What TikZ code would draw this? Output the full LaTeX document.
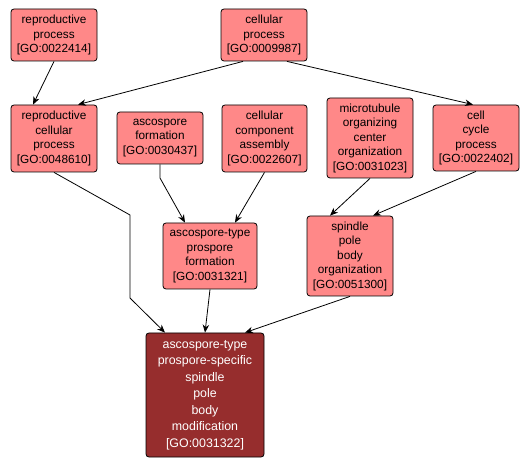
\documentclass[tikz,border=0pt]{standalone}
\usepackage{fontspec}
\setmainfont{Liberation Sans}
\usetikzlibrary{arrows.meta}
\definecolor{termpink}{RGB}{255,136,136}
\definecolor{hitred}{RGB}{150,45,45}

\begin{document}
\begin{tikzpicture}[x=1pt, y=-1pt,
  every node/.style={font=\fontsize{11.8}{14.5}\selectfont},
  term/.style={draw=black, line width=0.8pt, fill=termpink, rounded corners=3pt, align=center, inner sep=0pt, minimum width=86pt},
  hit/.style={term, fill=hitred, text=white, font=\fontsize{12.4}{16.5}\selectfont},
  edge/.style={-{Stealth[length=8pt,width=6.5pt]}, black, line width=0.8pt}
]
\useasboundingbox (0,0) rectangle (531,468);

\node[term, minimum height=52pt] (rp) at (54,35) {reproductive\\process\\{}[GO:0022414]};
\node[term, minimum height=52pt] (cp) at (264,35) {cellular\\process\\{}[GO:0009987]};
\node[term, minimum height=67pt] (rcp) at (54,138.5) {reproductive\\cellular\\process\\{}[GO:0048610]};
\node[term, minimum height=52pt] (af) at (160,138) {ascospore\\formation\\{}[GO:0030437]};
\node[term, minimum height=67pt, minimum width=85pt] (cca) at (264.5,138.5) {cellular\\component\\assembly\\{}[GO:0022607]};
\node[term, minimum height=80pt] (mtoc) at (370,138) {microtubule\\organizing\\center\\organization\\{}[GO:0031023]};
\node[term, minimum height=66pt] (ccp) at (476,138) {cell\\cycle\\process\\{}[GO:0022402]};
\node[term, minimum height=66pt, minimum width=94pt] (apf) at (210,256) {ascospore-type\\prospore\\formation\\{}[GO:0031321]};
\node[term, minimum height=80pt] (spbo) at (350,256) {spindle\\pole\\body\\organization\\{}[GO:0051300]};
\node[hit, minimum height=124pt, minimum width=118pt] (tgt) at (205,395) {ascospore-type\\prospore-specific\\spindle\\pole\\body\\modification\\{}[GO:0031322]};

\coordinate (b1) at (130,215);
\coordinate (b2) at (130,298);
\coordinate (b3) at (160,178);

\draw[edge] (rp.south) -- ([xshift=-21pt]rcp.north);
\draw[edge] ([xshift=-21pt]cp.south) -- ([xshift=24pt]rcp.north);
\draw[edge] ([xshift=23pt]cp.south) -- ([xshift=-3pt]ccp.north);
\draw[edge] (rcp.south) -- (b1) -- (b2) -- ([xshift=-40pt]tgt.north);
\draw[edge] (af.south) -- (b3) -- ([xshift=-25pt]apf.north);
\draw[edge] (cca.south) -- ([xshift=25pt]apf.north);
\draw[edge] (apf.south) -- (tgt.north);
\draw[edge] (mtoc.south) -- ([xshift=-20pt]spbo.north);
\draw[edge] (ccp.south) -- ([xshift=23pt]spbo.north);
\draw[edge] (spbo.south) -- ([xshift=40pt]tgt.north);
\end{tikzpicture}
\end{document}
